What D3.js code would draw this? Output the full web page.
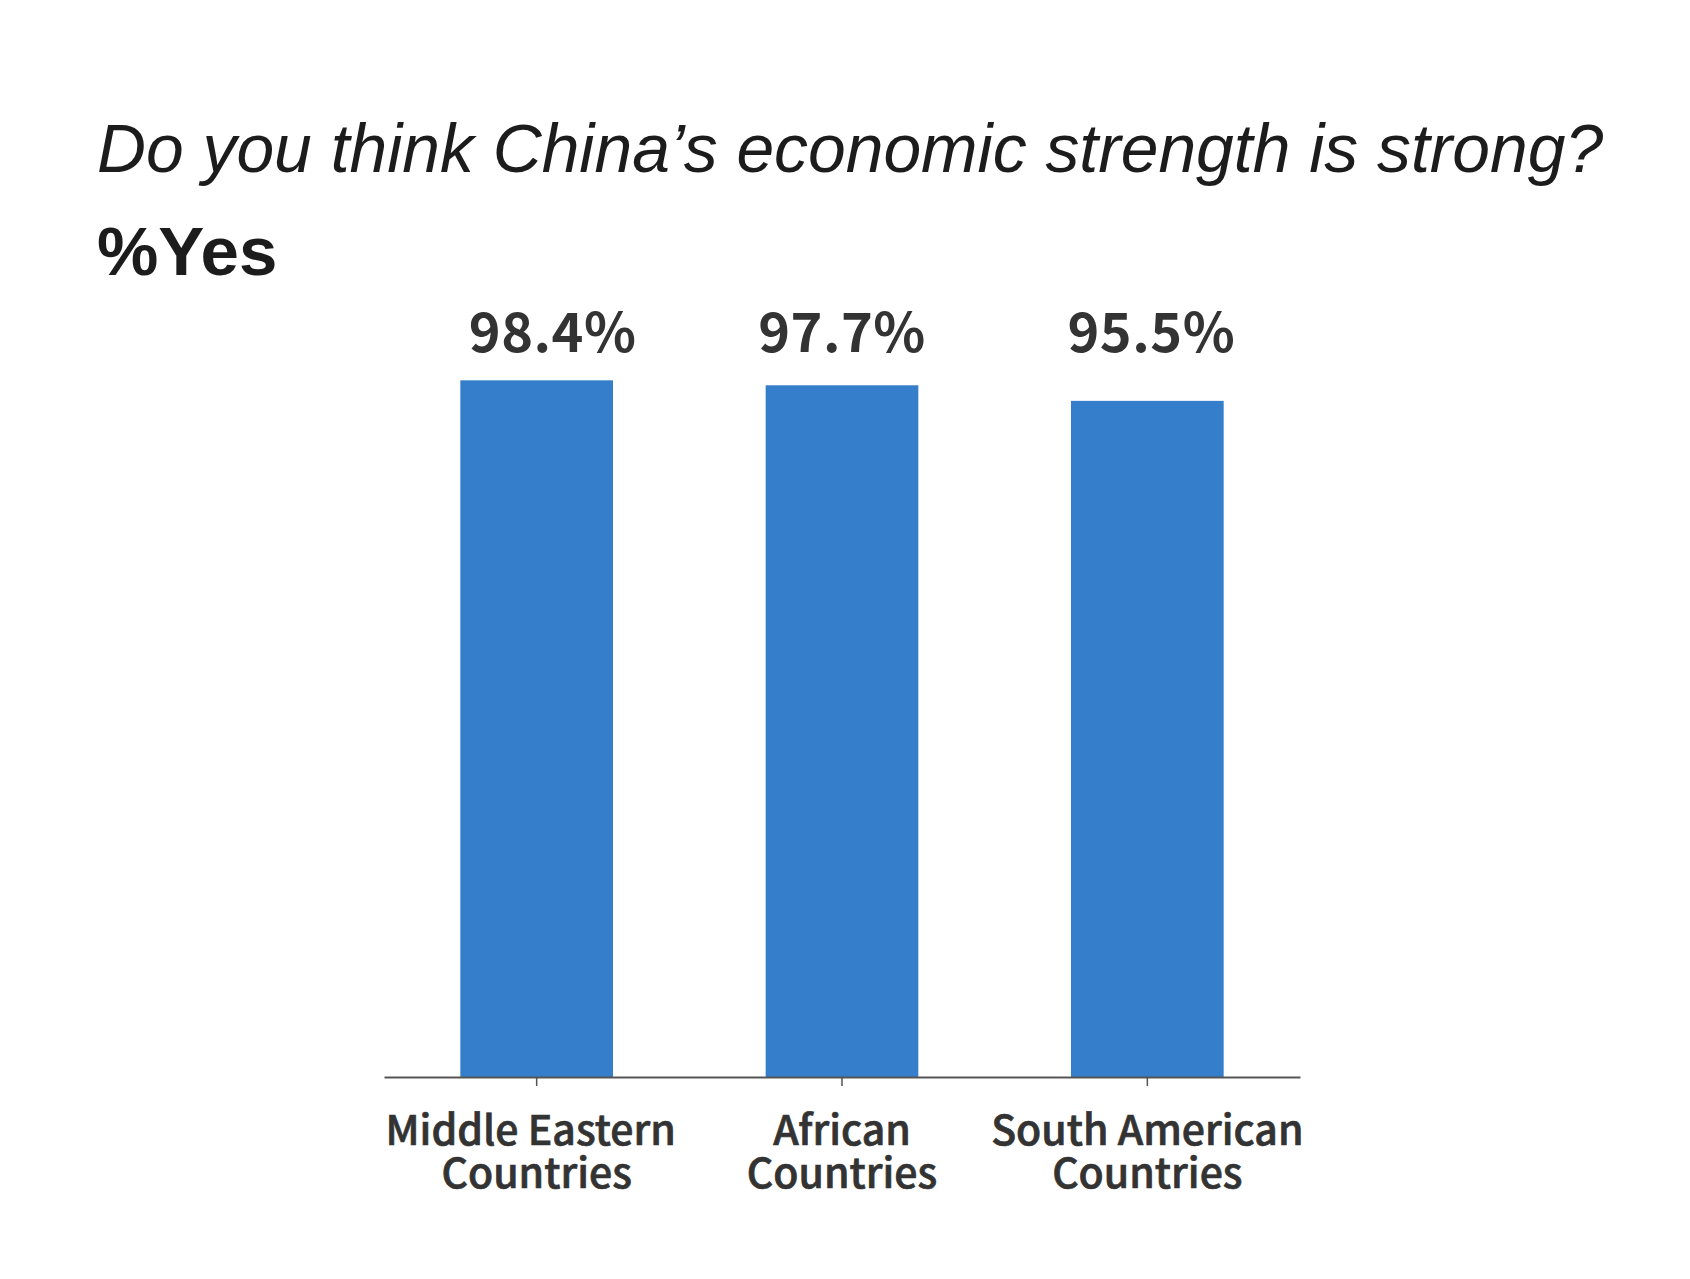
<!DOCTYPE html>
<html>
<head>
<meta charset="utf-8">
<script src="https://cdn.jsdelivr.net/npm/d3@7"></script>
<style>
  html, body { margin: 0; padding: 0; background: #ffffff; }
  svg { display: block; }
</style>
</head>
<body>
<svg id="chart" width="1690" height="1279"></svg>
<script>
const titleText = "Do you think China\u2019s economic strength is strong?";
const subtitleText = "%Yes";
const categories = [
  ["Middle Eastern", "Countries"],
  ["African", "Countries"],
  ["South American", "Countries"]
];
const categoryKeys = ["Middle Eastern Countries", "African Countries", "South American Countries"];
const values = [98.4, 97.7, 95.5];
const valueLabels = ["98.4%", "97.7%", "95.5%"];

const W = 1690, H = 1279;
const svg = d3.select("#chart");
svg.append("rect").attr("width", W).attr("height", H).attr("fill", "#ffffff");

const plotLeft = 384, plotRight = 1300, baseY = 1077, topY = 369;

const x = d3.scaleBand().domain(categoryKeys).range([plotLeft, plotRight])
  .paddingInner(0.5).paddingOuter(0.25);
const y = d3.scaleLinear().domain([0, 100]).range([baseY, topY]);

// Title
svg.append("text")
  .attr("x", 97).attr("y", 172)
  .attr("font-family", "Liberation Sans, Arial, sans-serif")
  .attr("font-style", "italic")
  .attr("font-size", 67.8)
  .attr("fill", "#1c1c1c")
  .text(titleText);

svg.append("text")
  .attr("x", 97).attr("y", 275)
  .attr("font-family", "Liberation Sans, Arial, sans-serif")
  .attr("font-weight", "bold")
  .attr("font-size", 69)
  .attr("fill", "#1c1c1c")
  .text(subtitleText);

// Bars
svg.append("g").selectAll("rect")
  .data(values)
  .join("rect")
  .attr("x", (d, i) => x(categoryKeys[i]))
  .attr("y", d => y(d))
  .attr("width", x.bandwidth())
  .attr("height", d => y(0) - y(d))
  .attr("fill", "#357ECB");

// Value labels (fixed row above plot)
const labelNudge = [16, 0, 4];
svg.append("g").selectAll("text")
  .data(valueLabels)
  .join("text")
  .attr("x", (d, i) => x(categoryKeys[i]) + x.bandwidth() / 2 + labelNudge[i])
  .attr("y", y(100) - 17)
  .attr("text-anchor", "middle")
  .attr("font-family", "Noto Sans CJK SC, Noto Sans, sans-serif")
  .attr("font-weight", "bold")
  .attr("font-size", 54)
  .attr("letter-spacing", 0.5)
  .attr("fill", "#333333")
  .text(d => d);

// X axis
const axis = svg.append("g")
  .attr("transform", `translate(0,${baseY})`)
  .call(d3.axisBottom(x).tickSize(9).tickSizeOuter(0).tickFormat(""));
axis.select(".domain").attr("stroke", "#555555").attr("stroke-width", 2);
axis.selectAll(".tick line").attr("stroke", "#555555").attr("stroke-width", 1.5);

// Category labels
const catNudge = [-6, 0, 0];
const lbl = svg.append("g").selectAll("text")
  .data(categories)
  .join("text")
  .attr("x", (d, i) => x(categoryKeys[i]) + x.bandwidth() / 2)
  .attr("y", 1145)
  .attr("text-anchor", "middle")
  .attr("font-family", "Noto Sans CJK SC, Noto Sans, sans-serif")
  .attr("font-weight", 500)
  .attr("font-size", 41)
  .attr("fill", "#333333")
  .attr("stroke", "#333333")
  .attr("stroke-width", 0.7);
lbl.selectAll("tspan")
  .data((d, i) => d.map((t, j) => ({ t, j, i })))
  .join("tspan")
  .attr("x", function(d) {
    return +d3.select(this.parentNode).attr("x") + (d.j === 0 ? catNudge[d.i] : 0);
  })
  .attr("y", d => 1145 + d.j * 43)
  .text(d => d.t);
</script>
</body>
</html>
